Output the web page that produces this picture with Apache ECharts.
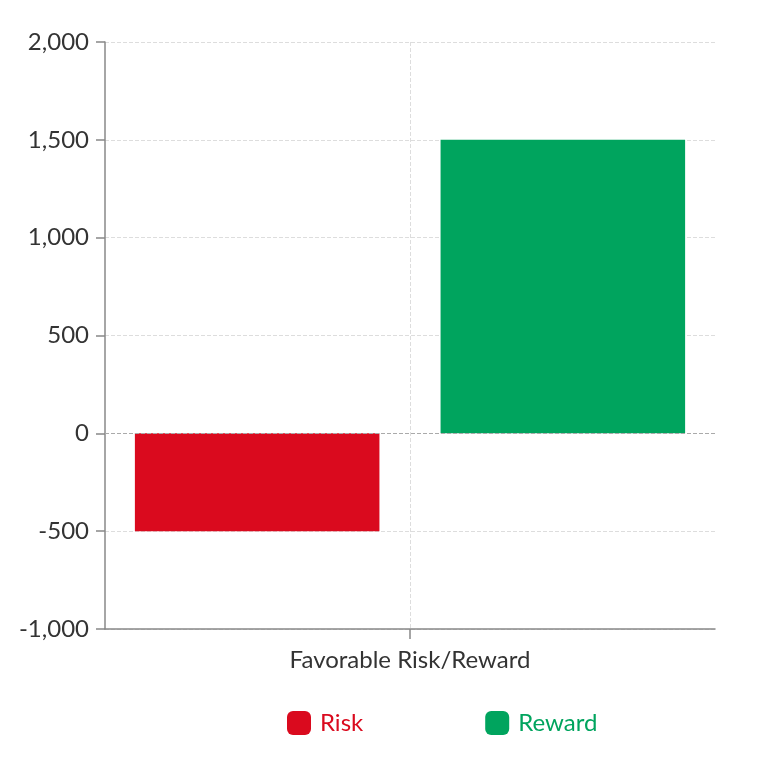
<!DOCTYPE html>
<html><head><meta charset="utf-8">
<script src="https://cdn.jsdelivr.net/npm/echarts@6/dist/echarts.min.js"></script>
<style>html,body{margin:0;padding:0;background:#fff}#c{width:762px;height:769px}</style>
</head><body><div id="c"></div>
<script>
const categories = ["Favorable Risk/Reward"];
const seriesNames = ["Risk", "Reward"];
const riskValues = [-500];
const rewardValues = [1500];
const seriesColors = ["#da0a1e", "#00a45e"];
const yMin = -1000, yMax = 2000, yStep = 500;

const chart = echarts.init(document.getElementById('c'));
chart.setOption({
  animation: false,
  textStyle: {fontFamily: 'Lato'},
  grid: {left: 105, right: 47, top: 42, bottom: 140, containLabel: false},
  legend: {
    top: 706, left: 282, itemGap: 122, itemWidth: 24, itemHeight: 24,
    icon: 'roundRect',
    textStyle: {fontSize: 24, fontFamily: 'Lato', padding: [0, 0, 0, 4]},
    data: seriesNames.map((n,i)=>({name:n, textStyle:{color:seriesColors[i], fontSize:24, padding:[0,0,0,4]}}))
  },
  xAxis: {
    type: 'category', data: categories,
    axisLine: {onZero: false, lineStyle: {color: '#888', width: 1.5}},
    axisTick: {show: true, alignWithLabel: true, length: 10, lineStyle: {color: '#888', width: 1.5}},
    axisLabel: {color: '#333', fontSize: 24, margin: 19, fontFamily: 'Lato'},
    splitLine: {show: true, alignWithLabel: true, lineStyle: {type: 'dashed', color: '#ddd'}}
  },
  yAxis: {
    type: 'value', min: yMin, max: yMax, interval: yStep,
    axisLine: {show: true, lineStyle: {color: '#888', width: 1.5}},
    axisTick: {show: true, length: 9, lineStyle: {color: '#888', width: 1.5}},
    axisLabel: {color: '#333', fontSize: 24, margin: 16, fontFamily: 'Lato',
      formatter: v => v.toLocaleString('en-US')},
    splitLine: {show: true, lineStyle: {type: 'dashed', color: '#ddd'}}
  },
  series: [
    {name: seriesNames[0], type: 'bar', data: riskValues, itemStyle: {color: seriesColors[0]},
     barGap: '25%', barCategoryGap: '9.8%',
     markLine: {silent: true, symbol: 'none', label: {show: false},
       lineStyle: {type: 'dashed', color: '#aaa', width: 1}, data: [{yAxis: 0}]}},
    {name: seriesNames[1], type: 'bar', data: rewardValues, itemStyle: {color: seriesColors[1]},
     barGap: '25%', barCategoryGap: '9.8%'}
  ]
});
</script></body></html>
